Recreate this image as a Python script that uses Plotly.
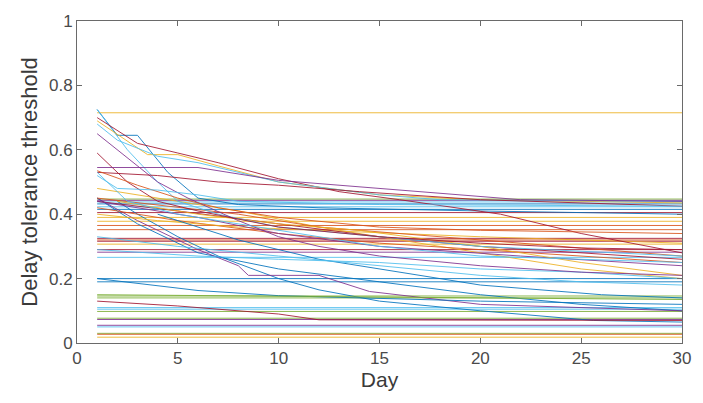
import plotly.graph_objects as go

# ---------------- data ----------------
day_span = [1, 30]

# constant (flat) thresholds over all days
flat_levels = [0.715, 0.447, 0.443, 0.438, 0.432, 0.423, 0.415, 0.405, 0.39, 0.378,
               0.365, 0.352, 0.325, 0.32, 0.316, 0.307, 0.29, 0.282, 0.266, 0.2,
               0.19, 0.146, 0.14, 0.11, 0.105, 0.098, 0.077, 0.073, 0.055, 0.05,
               0.03, 0.027, 0.018]

# decaying thresholds that start high (days, values)
upper_curves = [
    ([1, 2, 3, 4.5, 6, 8, 12, 20, 30], [0.725, 0.645, 0.645, 0.53, 0.45, 0.43, 0.42, 0.41, 0.40]),
    ([1, 2.5, 4, 5, 7, 10, 15, 20, 30], [0.725, 0.60, 0.50, 0.44, 0.40, 0.36, 0.33, 0.30, 0.27]),
    ([1, 2, 3, 5, 7, 10, 13, 16, 21, 25, 30], [0.70, 0.66, 0.62, 0.59, 0.56, 0.51, 0.47, 0.445, 0.40, 0.34, 0.28]),
    ([1, 3.5, 5, 7, 10, 15, 20, 25, 30], [0.69, 0.585, 0.585, 0.55, 0.50, 0.46, 0.445, 0.44, 0.435]),
    ([1, 2, 4, 6, 10, 15, 18, 30], [0.68, 0.63, 0.58, 0.56, 0.50, 0.46, 0.445, 0.44]),
    ([1, 4, 5.5, 8, 10, 12, 15, 20, 25, 30], [0.65, 0.50, 0.45, 0.38, 0.33, 0.30, 0.27, 0.24, 0.22, 0.21]),
    ([1, 2.5, 4, 6, 10, 15, 20, 25, 30], [0.59, 0.50, 0.44, 0.41, 0.36, 0.33, 0.31, 0.295, 0.29]),
    ([1, 6, 10, 15, 20, 22, 30], [0.545, 0.545, 0.505, 0.48, 0.455, 0.445, 0.44]),
    ([1, 4, 7, 10, 14, 20, 30], [0.53, 0.52, 0.50, 0.49, 0.47, 0.445, 0.425]),
    ([1, 3, 5, 7, 10, 15, 20, 25, 30], [0.535, 0.49, 0.45, 0.42, 0.39, 0.36, 0.35, 0.345, 0.34]),
    ([1, 2.5, 5, 10, 15, 20, 30], [0.53, 0.44, 0.40, 0.35, 0.30, 0.27, 0.25]),
    ([1, 2, 4, 6, 8, 15, 30], [0.52, 0.48, 0.475, 0.46, 0.44, 0.43, 0.425]),
]

# decaying thresholds starting in the middle band
middle_curves = [
    ([1, 5, 8, 12, 15, 20, 25, 30], [0.48, 0.44, 0.41, 0.36, 0.33, 0.28, 0.23, 0.20]),
    ([2, 3, 5, 7, 10, 12, 15, 20, 25.6, 30], [0.44, 0.40, 0.33, 0.27, 0.20, 0.165, 0.13, 0.10, 0.07, 0.065]),
    ([1, 3, 6, 10, 15, 20, 25, 30], [0.45, 0.37, 0.28, 0.23, 0.19, 0.15, 0.12, 0.10]),
    ([1, 3, 6, 8, 8.5, 12, 14.5, 20, 30], [0.45, 0.38, 0.29, 0.24, 0.21, 0.21, 0.16, 0.12, 0.10]),
    ([1, 5, 10, 15, 20, 25, 30], [0.42, 0.38, 0.34, 0.31, 0.29, 0.27, 0.25]),
    ([1, 4, 8, 12, 16, 20, 30], [0.40, 0.38, 0.36, 0.35, 0.34, 0.33, 0.31]),
    ([1, 5, 10, 15, 20, 25, 30], [0.44, 0.41, 0.37, 0.33, 0.30, 0.28, 0.26]),
    ([1, 6, 10, 15, 22, 30], [0.44, 0.39, 0.34, 0.30, 0.27, 0.24]),
    ([1, 8, 12, 18, 24, 30], [0.45, 0.40, 0.36, 0.33, 0.30, 0.27]),
    ([2, 6, 10, 14, 20, 25, 30], [0.44, 0.40, 0.37, 0.35, 0.30, 0.25, 0.21]),
    ([4, 8, 12, 16, 20, 26, 30], [0.40, 0.32, 0.26, 0.22, 0.18, 0.15, 0.14]),
    ([1, 5, 10, 15, 20, 25, 30], [0.33, 0.30, 0.27, 0.24, 0.21, 0.19, 0.18]),
    ([1, 6, 10, 15, 20, 25, 30], [0.29, 0.27, 0.26, 0.25, 0.23, 0.22, 0.20]),
]

# decaying thresholds starting low
lower_curves = [
    ([1, 6, 10, 20, 30], [0.2, 0.163, 0.147, 0.13, 0.12]),
    ([1, 5, 10, 12, 30], [0.13, 0.115, 0.09, 0.072, 0.07]),
    ([1, 10, 20, 30], [0.15, 0.145, 0.14, 0.135]),
]

x_ticks = [0, 5, 10, 15, 20, 25, 30]
y_ticks = [0, 0.2, 0.4, 0.6, 0.8, 1]
y_tick_labels = ["0", "0.2", "0.4", "0.6", "0.8", "1"]

# ---------------- style ----------------
B, O, Y, P, G, C, R = "#0072BD", "#D95319", "#EDB120", "#7E2F8E", "#77AC30", "#4DBEEE", "#A2142F"
flat_colors = [Y, G, P, C, B, C, B, R, Y, Y, O, O, R, O, R, Y, R, P, C, B,
               B, G, G, C, C, G, G, P, P, C, G, O, Y]
upper_colors = [B, C, R, Y, C, P, R, P, R, O, C, C]
middle_colors = [Y, B, B, P, O, Y, R, P, O, Y, B, C, C]
lower_colors = [B, R, G]

fig = go.Figure()
for lvl, col in zip(flat_levels, flat_colors):
    fig.add_trace(go.Scatter(x=day_span, y=[lvl, lvl], mode="lines", opacity=0.85,
                             line=dict(color=col, width=1)))
for group, cols in ((middle_curves, middle_colors), (lower_curves, lower_colors),
                    (upper_curves, upper_colors)):
    for (xs, ys), col in zip(group, cols):
        fig.add_trace(go.Scatter(x=xs, y=ys, mode="lines", opacity=0.85,
                                 line=dict(color=col, width=1)))

FONT = "Liberation Sans, Arial"
axis_common = dict(showgrid=False, zeroline=False, showline=True, linecolor="#6a6a6a",
                   linewidth=1, mirror="ticks", ticks="inside", ticklen=5,
                   tickcolor="#6a6a6a", tickfont=dict(family=FONT, size=17, color="#4a4a4a"))
fig.update_layout(
    width=703, height=403,
    margin=dict(l=77, r=15, t=17, b=60),
    paper_bgcolor="white", plot_bgcolor="white",
    showlegend=False,
    xaxis=dict(range=[0, 30], tickvals=x_ticks,
               title=dict(text="Day", font=dict(family=FONT, size=21, color="#3a3a3a"),
                          standoff=4),
               **axis_common),
    yaxis=dict(range=[0, 1], tickvals=y_ticks, ticktext=y_tick_labels,
               title=dict(text="Delay tolerance threshold",
                          font=dict(family=FONT, size=22, color="#3a3a3a"),
                          standoff=5),
               **axis_common),
)

fig.write_html("out.html")
